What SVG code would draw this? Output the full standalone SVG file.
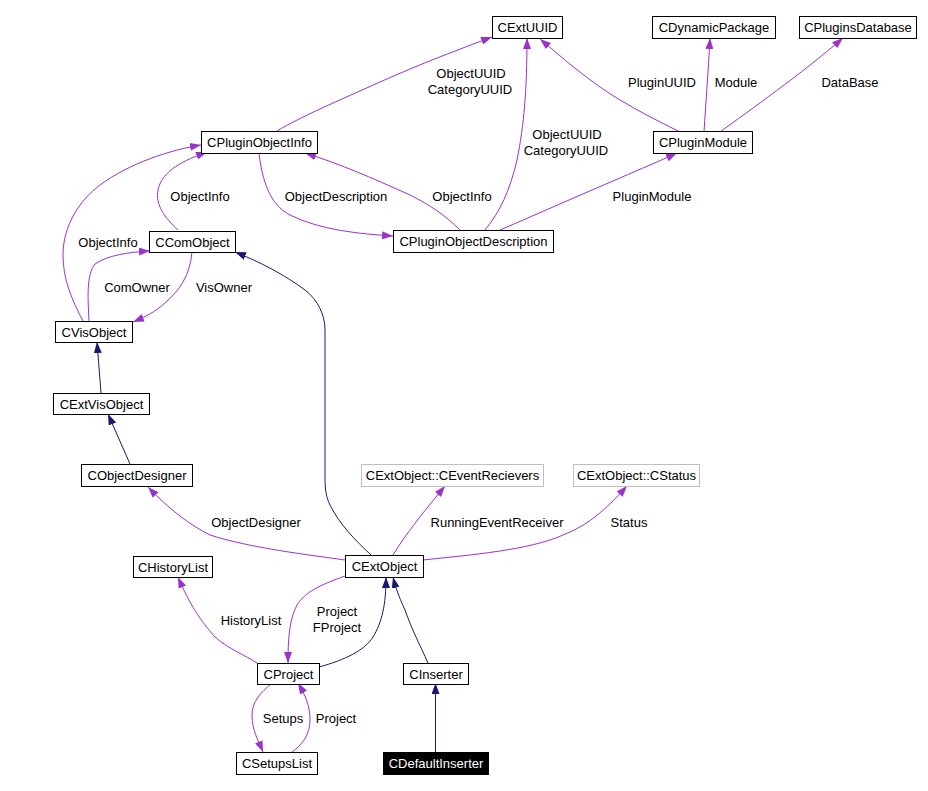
<svg xmlns="http://www.w3.org/2000/svg" width="928" height="791" viewBox="0 0 928 791">
<style>
.node rect{fill:#fff;stroke:#000;stroke-width:1}
.node.ext rect{stroke:#bfbfbf}
.node.cur rect{fill:#000}
.node text,.lbl{font-family:"Liberation Sans",Arial,sans-serif;font-size:13px;text-anchor:middle;fill:#000}
.node.cur text{fill:#fff}
.use{fill:none;stroke:#9a32cd;stroke-width:1;marker-end:url(#ap)}
.inh{fill:none;stroke:#191970;stroke-width:1;marker-end:url(#an)}
</style>
<defs>
<marker id="ap" markerUnits="userSpaceOnUse" markerWidth="11" markerHeight="8" refX="11" refY="4" orient="auto"><path d="M0,0 L11,4 L0,8 z" fill="#9a32cd"/></marker>
<marker id="an" markerUnits="userSpaceOnUse" markerWidth="11" markerHeight="8" refX="11" refY="4" orient="auto"><path d="M0,0 L11,4 L0,8 z" fill="#191970"/></marker>
</defs>
<rect width="928" height="791" fill="#fff"/>
<g id="edges">
<path class="use" d="M277,131 C300,117 340,100 380,82 C420,64 460,49 492,37"/>
<path class="use" d="M485,230 C500,212 510,190 517,160 C524,125 527,90 527,38"/>
<path class="use" d="M680,132 C660,122 640,112 620,100 C590,82 565,60 540,39"/>
<path class="use" d="M704,132 C706,100 708,75 710,38"/>
<path class="use" d="M720,132 C750,110 800,75 843,38"/>
<path class="use" d="M500,230 C535,215 580,195 620,178 C640,169 660,161 677,153"/>
<path class="use" d="M460,230 C445,215 430,205 410,195 C370,177 340,164 305,153"/>
<path class="use" d="M259,153 C262,180 270,205 290,215 C320,230 360,234 393,236"/>
<path class="use" d="M178,230 C165,218 155,205 158,190 C162,170 185,160 207,152"/>
<path class="use" d="M83,321 C72,300 63,280 63,255 C63,225 80,200 100,185 C130,163 170,150 201,145"/>
<path class="use" d="M89,321 C88,300 86,275 95,264 C108,255 130,252 150,251"/>
<path class="use" d="M192,252 C190,275 180,290 165,303 C155,312 145,317 133,322"/>
<path class="inh" d="M101,393 L97,342"/>
<path class="inh" d="M130,464 L108,414"/>
<path class="inh" d="M371,555 C355,540 340,525 330,505 C325,495 325,485 325,475 L325,330 C325,315 318,300 305,290 C285,275 260,262 235,252"/>
<path class="use" d="M345,560 C310,555 250,548 210,535 C190,525 170,510 148,487"/>
<path class="use" d="M393,555 C405,535 425,510 445,486"/>
<path class="use" d="M423,560 C470,555 530,550 563,535 C590,525 610,505 627,486"/>
<path class="use" d="M257,663 C245,655 230,650 215,637 C200,620 190,605 178,577"/>
<path class="use" d="M345,576 C320,585 305,592 297,605 C289,620 288,640 288,663"/>
<path class="inh" d="M319,667 C345,660 365,650 373,637 C382,622 386,605 386,577"/>
<path class="inh" d="M428,663 C420,645 412,630 405,610 C398,595 395,585 393,577"/>
<path class="inh" d="M435.5,752 L435.5,683"/>
<path class="use" d="M272,683 C260,693 252,702 252,715 C252,730 258,740 263,752"/>
<path class="use" d="M292,752 C302,745 310,735 310,720 C310,705 305,695 298,683"/>
</g>
<g id="labels">
<text class="lbl" x="471" y="77.5">ObjectUUID</text>
<text class="lbl" x="470" y="93.5">CategoryUUID</text>
<text class="lbl" x="567" y="139">ObjectUUID</text>
<text class="lbl" x="566" y="154.5">CategoryUUID</text>
<text class="lbl" x="662" y="86.5">PluginUUID</text>
<text class="lbl" x="736" y="86.5">Module</text>
<text class="lbl" x="850" y="86.5">DataBase</text>
<text class="lbl" x="652" y="200.5">PluginModule</text>
<text class="lbl" x="462" y="200.5">ObjectInfo</text>
<text class="lbl" x="336" y="200.5">ObjectDescription</text>
<text class="lbl" x="200" y="200.5">ObjectInfo</text>
<text class="lbl" x="108" y="246.5">ObjectInfo</text>
<text class="lbl" x="137" y="291.5">ComOwner</text>
<text class="lbl" x="224" y="291.5">VisOwner</text>
<text class="lbl" x="256" y="526.5">ObjectDesigner</text>
<text class="lbl" x="497" y="526.5">RunningEventReceiver</text>
<text class="lbl" x="629" y="526.5">Status</text>
<text class="lbl" x="251" y="624.5">HistoryList</text>
<text class="lbl" x="337" y="616">Project</text>
<text class="lbl" x="337" y="632">FProject</text>
<text class="lbl" x="283" y="722.5">Setups</text>
<text class="lbl" x="336" y="722.5">Project</text>
</g>
<g id="CExtUUID" class="node"><rect x="492.5" y="16.5" width="70" height="22"/><text x="527.5" y="32">CExtUUID</text></g>
<g id="CDynamicPackage" class="node"><rect x="652.5" y="16.5" width="123" height="22"/><text x="714" y="32">CDynamicPackage</text></g>
<g id="CPluginsDatabase" class="node"><rect x="799.5" y="16.5" width="117" height="22"/><text x="858" y="32">CPluginsDatabase</text></g>
<g id="CPluginObjectInfo" class="node"><rect x="201.5" y="131.5" width="116" height="22"/><text x="259.5" y="147">CPluginObjectInfo</text></g>
<g id="CPluginModule" class="node"><rect x="653.5" y="131.5" width="99" height="22"/><text x="703" y="147">CPluginModule</text></g>
<g id="CComObject" class="node"><rect x="149.5" y="231.5" width="86" height="21"/><text x="192.5" y="246.5">CComObject</text></g>
<g id="CPluginObjectDescription" class="node"><rect x="393.5" y="230.5" width="160" height="22"/><text x="473.5" y="246">CPluginObjectDescription</text></g>
<g id="CVisObject" class="node"><rect x="55.5" y="321.5" width="77" height="21"/><text x="94" y="336.5">CVisObject</text></g>
<g id="CExtVisObject" class="node"><rect x="53.5" y="393.5" width="96" height="21"/><text x="101.5" y="408.5">CExtVisObject</text></g>
<g id="CObjectDesigner" class="node"><rect x="81.5" y="464.5" width="111" height="22"/><text x="137" y="480">CObjectDesigner</text></g>
<g id="CEventRecievers" class="node ext"><rect x="361.5" y="464.5" width="182" height="22"/><text x="452.5" y="480">CExtObject::CEventRecievers</text></g>
<g id="CStatus" class="node ext"><rect x="573.5" y="464.5" width="126" height="22"/><text x="636.5" y="480">CExtObject::CStatus</text></g>
<g id="CHistoryList" class="node"><rect x="133.5" y="556.5" width="79" height="21"/><text x="173" y="571.5">CHistoryList</text></g>
<g id="CExtObject" class="node"><rect x="345.5" y="555.5" width="78" height="22"/><text x="384.5" y="571">CExtObject</text></g>
<g id="CProject" class="node"><rect x="257.5" y="663.5" width="62" height="21"/><text x="288.5" y="678.5">CProject</text></g>
<g id="CInserter" class="node"><rect x="403.5" y="663.5" width="65" height="21"/><text x="436" y="678.5">CInserter</text></g>
<g id="CSetupsList" class="node"><rect x="236.5" y="752.5" width="81" height="22"/><text x="277" y="768">CSetupsList</text></g>
<g id="CDefaultInserter" class="node cur"><rect x="383.5" y="752.5" width="105" height="22"/><text x="436" y="768">CDefaultInserter</text></g>
</svg>
